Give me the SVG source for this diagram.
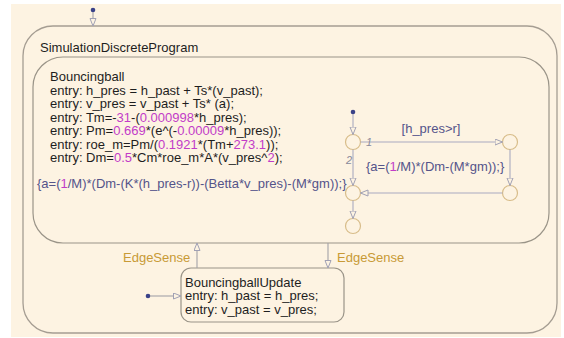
<svg xmlns="http://www.w3.org/2000/svg" width="564" height="338" viewBox="0 0 564 338">
<style>
text{font-family:"Liberation Sans",Arial,sans-serif;font-size:13px;fill:#1e1e1e}
.state{fill:#fdf3e2;stroke:#a59d92;stroke-width:1.3}
.sub{fill:#fdf3e2;stroke:#9a9488;stroke-width:1.2}
.num{fill:#c23cc8}
.act{fill:#54548a}
.lbl{fill:#c89a36}
.junc{fill:#fdf3e2;stroke:#d8bd8a;stroke-width:1.2}
.tr{fill:none;stroke:#a9a9bf;stroke-width:1.1;marker-end:url(#ah)}
.ed{fill:none;stroke:#a3a1a8;stroke-width:1.1;marker-end:url(#ah)}
.dot{fill:#3a4288}
.idx{font-size:11px;font-style:italic;fill:#8a8a9a}
</style>
<defs>
<marker id="ah" markerUnits="userSpaceOnUse" markerWidth="10" markerHeight="8" refX="8" refY="3.5" orient="auto">
<path d="M0.5,0.5 L8,3.5 L0.5,6.5 z" fill="#fdf3e2" stroke="#a0a0b4" stroke-width="1"/>
</marker>
</defs>
<rect x="11" y="4" width="550" height="333" fill="#fdf3e2"/>
<g id="SimulationDiscreteProgram">
<rect class="state" x="23" y="26" width="534" height="307" rx="30" ry="30"/>
<text x="40" y="52">SimulationDiscreteProgram</text>
</g>
<g id="Bouncingball">
<rect class="sub" x="33" y="57" width="516" height="186" rx="30" ry="30"/>
<text x="50" y="81">Bouncingball</text>
<text x="50" y="94.5">entry: h_pres = h_past + Ts*(v_past);</text>
<text x="50" y="108">entry: v_pres = v_past + Ts* (a);</text>
<text x="50" y="121.5">entry: Tm=-<tspan class="num">31</tspan>-(<tspan class="num">0.000998</tspan>*h_pres);</text>
<text x="50" y="135">entry: Pm=<tspan class="num">0.669</tspan>*(e^(-<tspan class="num">0.00009</tspan>*h_pres));</text>
<text x="50" y="148.5">entry: roe_m=Pm/(<tspan class="num">0.1921</tspan>*(Tm+<tspan class="num">273.1</tspan>));</text>
<text x="50" y="162">entry: Dm=<tspan class="num">0.5</tspan>*Cm*roe_m*A*(v_pres^<tspan class="num">2</tspan>);</text>
</g>
<g id="BouncingballUpdate">
<rect class="sub" x="181" y="268" width="163" height="54" rx="10" ry="10"/>
<text x="185" y="286.5">BouncingballUpdate</text>
<text x="185" y="300">entry: h_past = h_pres;</text>
<text x="185" y="313.5">entry: v_past = v_pres;</text>
</g>
<g id="junction1"><circle class="junc" cx="353" cy="142" r="7.5"/></g>
<g id="junction2"><circle class="junc" cx="510" cy="142" r="7.5"/></g>
<g id="junction3"><circle class="junc" cx="510" cy="193" r="7.5"/></g>
<g id="junction4"><circle class="junc" cx="353" cy="193" r="7.5"/></g>
<g id="junction5"><circle class="junc" cx="353" cy="226" r="7.5"/></g>
<g id="connectors">
<circle class="dot" cx="93" cy="10" r="2.3"/>
<path class="ed" d="M93,12 L93,26"/>
<circle class="dot" cx="148" cy="296" r="2.3"/>
<path class="ed" d="M150,296 L181,296"/>
<path class="ed" d="M197,268 L197,243"/>
<path class="ed" d="M328,243 L328,268"/>
<text class="lbl" x="123" y="262">EdgeSense</text>
<text class="lbl" x="337" y="262">EdgeSense</text>
<circle class="dot" cx="353" cy="112" r="2.3"/>
<path class="tr" d="M353,114 L353,134.5"/>
<path class="tr" d="M360.5,142 L502.5,142"/>
<path class="tr" d="M510,149.5 L510,185.5"/>
<path class="tr" d="M502.5,193 L360.5,193"/>
<path class="tr" d="M353,149.5 L353,185.5"/>
<path class="tr" d="M353,200.5 L353,218.5"/>
<text class="idx" x="366" y="146">1</text>
<text class="idx" x="346" y="164">2</text>
<text x="431" y="133" text-anchor="middle" class="act">[h_pres&gt;r]</text>
<text x="366" y="171" class="act">{a=(<tspan class="num">1</tspan>/M)*(Dm-(M*gm));}</text>
<text x="37" y="188" class="act">{a=(<tspan class="num">1</tspan>/M)*(Dm-(K*(h_pres-r))-(Betta*v_pres)-(M*gm));}</text>
</g>
</svg>
